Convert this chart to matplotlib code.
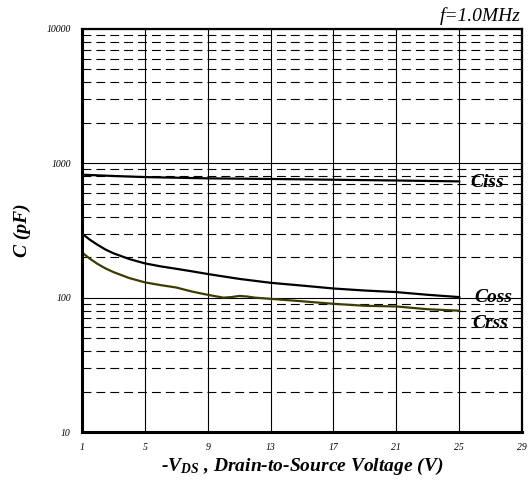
import matplotlib
matplotlib.use("Agg")
import matplotlib.pyplot as plt
from matplotlib.ticker import FixedLocator, NullFormatter, LogLocator

plt.rcParams['mathtext.fontset'] = 'custom'
plt.rcParams['mathtext.rm'] = 'Liberation Serif:bold:italic'
plt.rcParams['mathtext.it'] = 'Liberation Serif:bold:italic'
plt.rcParams['mathtext.bf'] = 'Liberation Serif:bold:italic'

# Data
vds_ciss = [1, 3, 5, 9, 13, 17, 21, 25]
ciss = [823, 805, 790, 773, 765, 755, 745, 734]

vds_coss = [1, 1.5, 2, 2.5, 3, 4, 5, 6, 7, 8, 9, 11, 13, 15, 17, 19, 21, 23, 25]
coss = [300, 270, 247, 228, 214, 194, 180, 171, 164, 157, 150, 138, 129, 123, 117, 113, 110, 105, 101]

vds_crss = [1, 1.5, 2, 2.5, 3, 4, 5, 6, 7, 8, 9, 10, 10.5, 11, 11.5, 12, 13, 15, 17, 19, 21, 23, 25]
crss = [217, 195, 178, 165, 155, 140, 130, 124, 119, 111, 105, 100, 101, 103, 102, 100, 98, 94, 90, 87, 86, 82, 80]

x_ticks = [1, 5, 9, 13, 17, 21, 25, 29]
y_ticks = [10, 100, 1000, 10000]

serif = 'Liberation Serif'

fig = plt.figure(figsize=(5.29, 4.8), dpi=100)
ax = fig.add_axes([0.155, 0.1, 0.832, 0.8396])
ax.set_yscale('log')
ax.set_xlim(1, 29)
ax.set_ylim(10, 10000)

# grid
ax.xaxis.set_major_locator(FixedLocator(x_ticks))
ax.yaxis.set_major_locator(FixedLocator(y_ticks))
ax.yaxis.set_minor_locator(LogLocator(base=10, subs=range(2, 10)))
ax.yaxis.set_minor_formatter(NullFormatter())
ax.grid(True, which='major', axis='x', color='black', lw=0.8)
ax.grid(True, which='major', axis='y', color='black', lw=0.8)
ax.grid(True, which='minor', axis='y', color='black', lw=0.8, linestyle=(0, (8, 4.5)))
ax.set_axisbelow(True)

ax.set_xticklabels([str(t) for t in x_ticks])
ax.set_yticklabels([str(t) for t in y_ticks])
ax.tick_params(which='both', length=0, pad=8)
for lab in ax.get_xticklabels() + ax.get_yticklabels():
    lab.set_fontfamily(serif)
    lab.set_fontstyle('italic')
    lab.set_fontsize(7)

for side, w in (('left', 2.2), ('bottom', 2.2), ('right', 1.6), ('top', 1.6)):
    ax.spines[side].set_linewidth(w)
    ax.spines[side].set_color('black')

ax.plot(vds_ciss, ciss, color='black', lw=1.6)
ax.plot(vds_coss, coss, color='black', lw=1.6)
ax.plot(vds_crss, crss, color='#3c3c00', lw=1.6)

lab_kw = dict(fontfamily=serif, fontstyle='italic', fontweight='bold', fontsize=14,
              ha='center', va='center')
ax.text(26.75, 722, 'Ciss', **lab_kw)
ax.text(27.15, 100, 'Coss', **lab_kw)
ax.text(27.0, 64, 'Crss', **lab_kw)

fig.text(0.984, 0.966, 'f=1.0MHz', fontfamily=serif, fontstyle='italic', fontsize=14,
         ha='right', va='center')

ax.set_ylabel('C (pF)', fontfamily=serif, fontstyle='italic', fontweight='bold', fontsize=14,
              labelpad=11)
ax.set_xlabel(r'-V$_{\mathrm{DS}}$ , Drain-to-Source Voltage (V)', fontfamily=serif,
              fontstyle='italic', fontweight='bold', fontsize=14, labelpad=3)

fig.savefig('out.png', dpi=100)
